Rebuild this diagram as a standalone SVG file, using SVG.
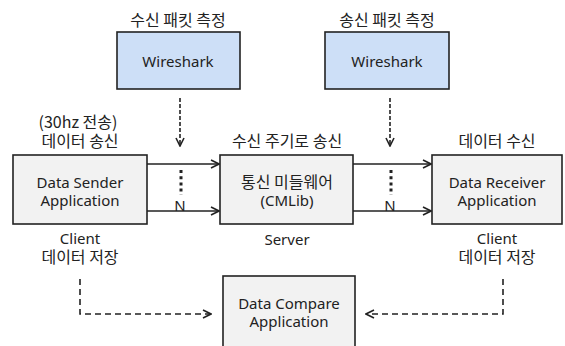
<svg xmlns="http://www.w3.org/2000/svg" width="565" height="346" viewBox="0 0 565 346">
<defs>
<style>
text{font-family:"Noto Sans","Noto Sans CJK KR",sans-serif;font-size:15px;fill:#222;text-anchor:middle}
.ko{font-family:"Noto Sans CJK KR","Noto Sans",sans-serif;font-size:16px}
.box{fill:#f2f2f2;stroke:#222;stroke-width:1.6}
.ws{fill:#cddff7;stroke:#222;stroke-width:1.6}
.solid{stroke:#222;stroke-width:1.6;fill:none}
.dash{stroke:#222;stroke-width:1.6;fill:none;stroke-dasharray:6 4}
.vdash{stroke:#222;stroke-width:1.6;fill:none;stroke-dasharray:4 2}
.dots{stroke:#222;stroke-width:3;fill:none;stroke-dasharray:3 3.2}
</style>
<marker id="ah" viewBox="0 0 10 10" refX="9" refY="5" markerWidth="10" markerHeight="10" markerUnits="userSpaceOnUse" orient="auto">
<path d="M1,1 L9,5 L1,9" fill="none" stroke="#222" stroke-width="1.6"/>
</marker>
</defs>
<rect width="565" height="346" fill="#fff"/>
<g id="wireshark1">
<text class="ko" x="178" y="26">수신 패킷 측정</text>
<rect class="ws" x="117" y="32" width="123" height="57"/>
<text x="178" y="67">Wireshark</text>
</g>
<g id="wireshark2">
<text class="ko" x="387" y="26">송신 패킷 측정</text>
<rect class="ws" x="325" y="32" width="124" height="57"/>
<text x="387" y="67">Wireshark</text>
</g>
<g id="sender">
<text class="ko" x="79" y="128"><tspan x="78">(30hz 전송)</tspan><tspan x="80" dy="19">데이터 송신</tspan></text>
<rect class="box" x="13" y="155" width="134" height="69"/>
<text x="80" y="188"><tspan x="80">Data Sender</tspan><tspan x="80" dy="18">Application</tspan></text>
<text x="80" y="244"><tspan x="80">Client</tspan><tspan class="ko" x="80" dy="19">데이터 저장</tspan></text>
</g>
<g id="server">
<text class="ko" x="287" y="147">수신 주기로 송신</text>
<rect class="box" x="220" y="155" width="133" height="69"/>
<text x="287" y="188"><tspan class="ko" x="287">통신 미들웨어</tspan><tspan x="287" dy="18">(CMLib)</tspan></text>
<text x="287" y="245">Server</text>
</g>
<g id="receiver">
<text class="ko" x="497" y="147">데이터 수신</text>
<rect class="box" x="432" y="155" width="130" height="69"/>
<text x="497" y="188"><tspan x="497">Data Receiver</tspan><tspan x="497" dy="18">Application</tspan></text>
<text x="497" y="244"><tspan x="497">Client</tspan><tspan class="ko" x="497" dy="19">데이터 저장</tspan></text>
</g>
<g id="compare">
<rect class="box" x="223" y="276" width="132" height="75"/>
<text x="289" y="309"><tspan x="289">Data Compare</tspan><tspan x="289" dy="18">Application</tspan></text>
</g>
<g id="connectors">
<path class="vdash" d="M180,98 V146" marker-end="url(#ah)"/>
<path class="vdash" d="M390,98 V146" marker-end="url(#ah)"/>
<path class="solid" d="M147,164 H219" marker-end="url(#ah)"/>
<path class="solid" d="M147,211 H219" marker-end="url(#ah)"/>
<path class="solid" d="M353,164 H431" marker-end="url(#ah)"/>
<path class="solid" d="M353,211 H431" marker-end="url(#ah)"/>
<path class="dots" d="M181,170 V195"/>
<path class="dots" d="M391,170 V195"/>
<text x="180" y="211">N</text>
<text x="390" y="211">N</text>
<path class="dash" d="M80,279 V314 H211" marker-end="url(#ah)"/>
<path class="dash" d="M503,279 V314 H366" marker-end="url(#ah)"/>
</g>
</svg>
